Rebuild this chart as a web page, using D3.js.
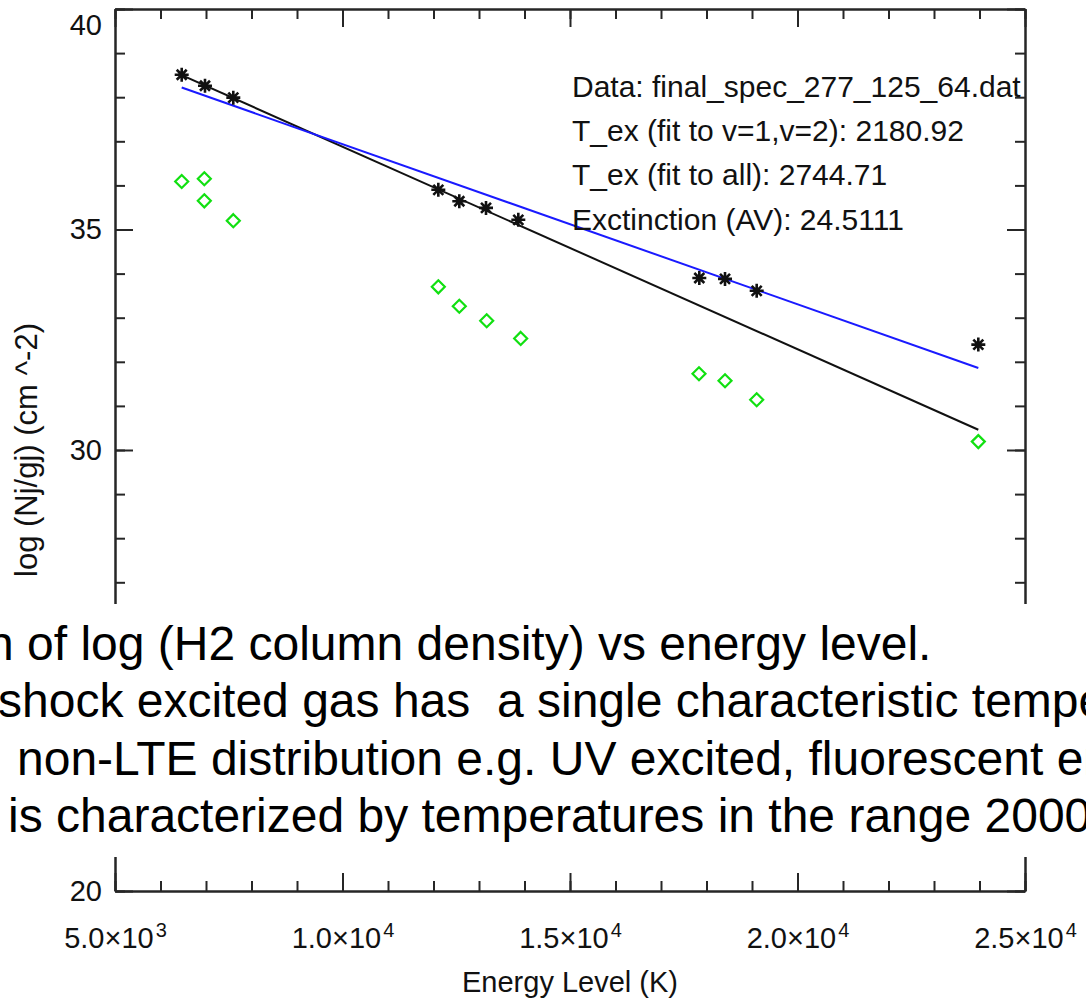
<!DOCTYPE html>
<meta charset="utf-8">
<script src="https://cdn.jsdelivr.net/npm/d3@7"></script>
<style>
body { margin: 0; background: #fff; }
svg { display: block; font-family: "Liberation Sans", Arial, Helvetica, sans-serif; }
.axis path, .axis line { stroke: #262626; stroke-width: 2; }
.axis text { fill: #111; }
</style>
<body>
<script>

var width = 1086
var height = 999

// observed (black asterisks) : energy level (K) and log(Nj/gj)
var energyObs = [6466, 6978, 7600, 12106, 12567, 13154, 13864, 17842, 18407, 19103, 23974]
var logObs    = [38.51, 38.26, 37.99, 35.90, 35.64, 35.49, 35.22, 33.90, 33.88, 33.61, 32.39]

// green diamonds
var energyAlt = [6466, 6963, 6963, 7600, 12106, 12567, 13169, 13916, 17835, 18407, 19103, 23974]
var logAlt    = [36.09, 36.15, 35.65, 35.20, 33.70, 33.26, 32.93, 32.53, 31.73, 31.57, 31.14, 30.19]

// fitted lines (end points)
var fitEnergy = [6466, 23974]
var fitAll    = [38.50, 30.46]
var fitV12    = [38.22, 31.86]

var xMajor = [5000, 10000, 15000, 20000, 25000]
var yMajor = [20, 25, 30, 35, 40]

var notes = [
  "Data: final_spec_277_125_64.dat",
  "T_ex (fit to v=1,v=2): 2180.92",
  "T_ex (fit to all): 2744.71",
  "Exctinction (AV): 24.5111"
]

var caption = [
  "n of log (H2 column density) vs energy level.",
  "shock excited gas has  a single characteristic temperature",
  "non-LTE distribution e.g. UV excited, fluorescent emission",
  "is characterized by temperatures in the range 2000"
]

var x = d3.scaleLinear().domain([5000, 25000]).range([115, 1025])
var y = d3.scaleLinear().domain([20, 40]).range([891, 9])

var svg = d3.select("body").append("svg")
            .attr("width", width)
            .attr("height", height)

function styleAxis(g) {
  g.attr("class", "axis").attr("font-size", 29).attr("font-family", null)
}

// bottom
svg.append("g").attr("transform", "translate(0," + y(20) + ")")
   .call(d3.axisBottom(x).ticks(20).tickSize(-10).tickSizeOuter(0).tickFormat(""))
   .call(styleAxis)
var xb = svg.append("g").attr("transform", "translate(0," + y(20) + ")")
   .call(d3.axisBottom(x).tickValues(xMajor).tickSize(-18).tickSizeOuter(0).tickPadding(36))
   .call(styleAxis)
xb.selectAll(".tick text").each(function(d) {
  var e = Math.floor(Math.log10(d))
  var m = (d / Math.pow(10, e)).toFixed(1)
  var t = d3.select(this).text("")
  t.append("tspan").text(m + "\u00d710")
  t.append("tspan").attr("font-size", 20).attr("dy", -11).attr("dx", 2).text(e)
})

// top
svg.append("g").attr("transform", "translate(0," + y(40) + ")")
   .call(d3.axisTop(x).ticks(20).tickSize(-10).tickSizeOuter(0).tickFormat(""))
   .call(styleAxis)
svg.append("g").attr("transform", "translate(0," + y(40) + ")")
   .call(d3.axisTop(x).tickValues(xMajor).tickSize(-18).tickSizeOuter(0).tickFormat(""))
   .call(styleAxis)

// left
svg.append("g").attr("transform", "translate(" + x(5000) + ",0)")
   .call(d3.axisLeft(y).ticks(20).tickSize(-10).tickSizeOuter(0).tickFormat(""))
   .call(styleAxis)
var yl = svg.append("g").attr("transform", "translate(" + x(5000) + ",0)")
   .call(d3.axisLeft(y).tickValues(yMajor).tickSize(-18).tickSizeOuter(0).tickPadding(13))
   .call(styleAxis)
yl.selectAll(".tick text").filter(function(d) { return d === 40 }).attr("transform", "translate(0,16)")

// right
svg.append("g").attr("transform", "translate(" + x(25000) + ",0)")
   .call(d3.axisRight(y).ticks(20).tickSize(-10).tickSizeOuter(0).tickFormat(""))
   .call(styleAxis)
svg.append("g").attr("transform", "translate(" + x(25000) + ",0)")
   .call(d3.axisRight(y).tickValues(yMajor).tickSize(-18).tickSizeOuter(0).tickFormat(""))
   .call(styleAxis)

// axis titles
svg.append("text")
   .attr("transform", "translate(37," + y(30) + ") rotate(-90)")
   .attr("text-anchor", "middle")
   .attr("font-size", 31)
   .attr("fill", "#111")
   .text("log (Nj/gj) (cm ^-2)")

svg.append("text")
   .attr("x", (x(5000) + x(25000)) / 2)
   .attr("y", 992)
   .attr("text-anchor", "middle")
   .attr("font-size", 29)
   .attr("fill", "#111")
   .text("Energy Level (K)")

// fit lines
var fitLine = d3.line().x(function(d, i) { return x(fitEnergy[i]) }).y(function(d) { return y(d) })
svg.append("path").attr("d", fitLine(fitAll))
   .attr("fill", "none").attr("stroke", "#111").attr("stroke-width", 2)
svg.append("path").attr("d", fitLine(fitV12))
   .attr("fill", "none").attr("stroke", "#1a1aff").attr("stroke-width", 2)

// green diamonds
svg.append("g").selectAll("path")
   .data(logAlt)
   .join("path")
   .attr("transform", function(d, i) { return "translate(" + x(energyAlt[i]) + "," + y(d) + ")" })
   .attr("d", "M0,-6.5L6.5,0L0,6.5L-6.5,0Z")
   .attr("fill", "none")
   .attr("stroke", "#11e011")
   .attr("stroke-width", 2.2)

// asterisks
svg.append("g").selectAll("path")
   .data(logObs)
   .join("path")
   .attr("transform", function(d, i) { return "translate(" + x(energyObs[i]) + "," + y(d) + ")" })
   .attr("d", "M-7,0H7M0,-7V7M-5,-5L5,5M-5,5L5,-5")
   .attr("stroke", "#111")
   .attr("stroke-width", 2.6)

// annotation
svg.append("g").selectAll("text")
   .data(notes)
   .join("text")
   .attr("x", 572)
   .attr("y", function(d, i) { return 97 + i * 44.2 })
   .attr("font-size", 30)
   .attr("fill", "#111")
   .text(function(d) { return d })

// slide text band over the plot
svg.append("rect")
   .attr("x", 0).attr("y", 604)
   .attr("width", width).attr("height", 253)
   .attr("fill", "#fff")

var capX = [-13, -2, 17, 8]
svg.append("g").selectAll("text")
   .data(caption)
   .join("text")
   .attr("x", function(d, i) { return capX[i] })
   .attr("y", function(d, i) { return 660 + i * 57.4 })
   .attr("font-size", 48)
   .attr("fill", "#000")
   .style("white-space", "pre")
   .text(function(d) { return d })

</script>
</body>
